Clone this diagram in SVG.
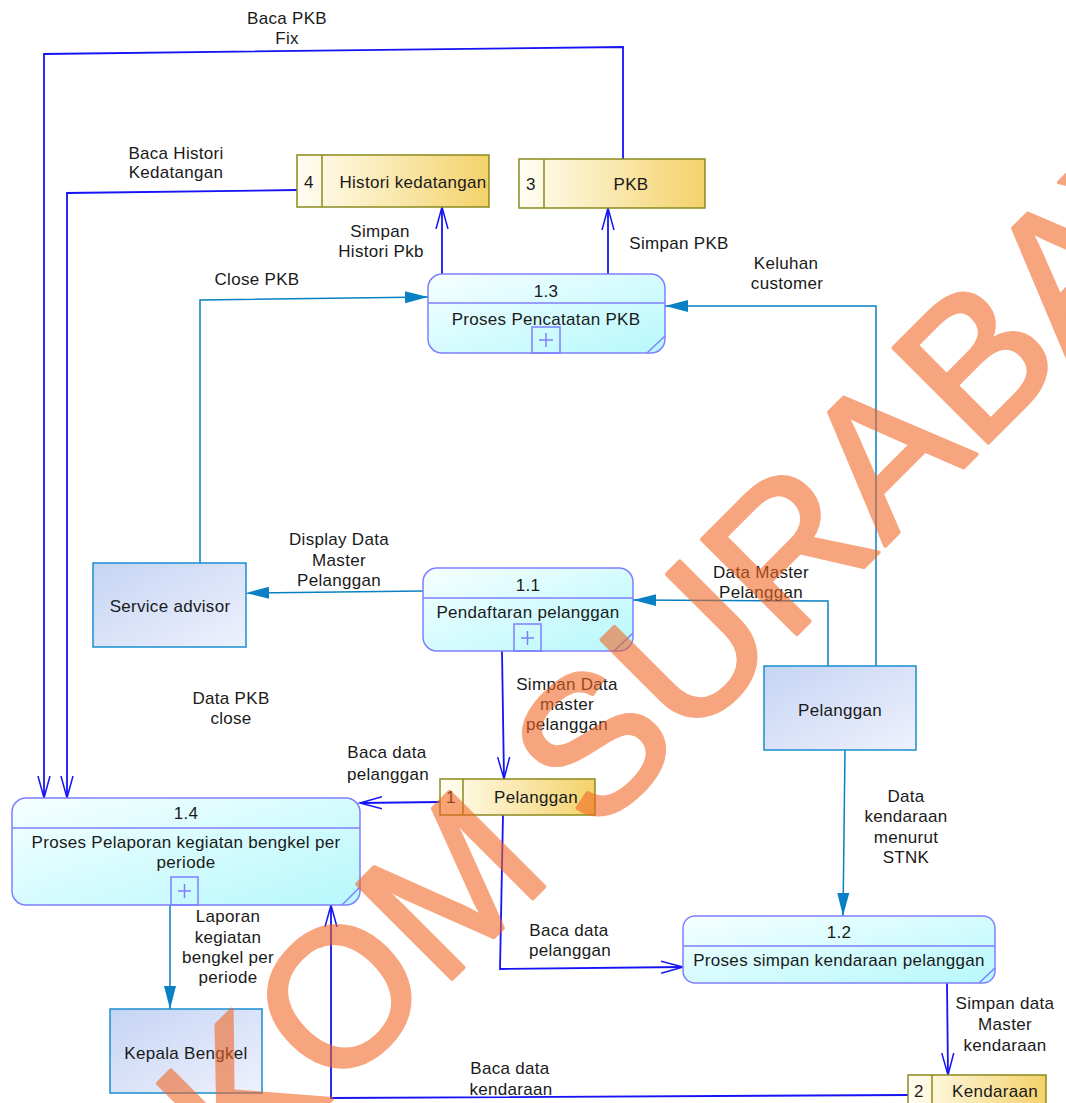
<svg xmlns="http://www.w3.org/2000/svg" width="1066" height="1103" viewBox="0 0 1066 1103">
<defs>
<linearGradient id="gProc" x1="0" y1="0" x2="1" y2="1"><stop offset="0" stop-color="#F6FFFF"/><stop offset="1" stop-color="#B6F8FC"/></linearGradient>
<linearGradient id="gEnt" x1="0" y1="0" x2="1" y2="1"><stop offset="0" stop-color="#C5D4F4"/><stop offset="1" stop-color="#EFF1FD"/></linearGradient>
<linearGradient id="gStore" x1="0" y1="0" x2="1" y2="0"><stop offset="0" stop-color="#FFFEF4"/><stop offset="1" stop-color="#F4D26A"/></linearGradient>
<marker id="open" markerWidth="24" markerHeight="16" refX="22" refY="7" orient="auto" markerUnits="userSpaceOnUse"><path d="M0,1 L22,7 L0,13" fill="none" stroke="#1414F5" stroke-width="1.5"/></marker>
<marker id="fill" markerWidth="24" markerHeight="16" refX="23" refY="7" orient="auto" markerUnits="userSpaceOnUse"><path d="M0,1 L23,7 L0,13 Z" fill="#0A80C4"/></marker>
</defs>
<style>
text{font-family:"Liberation Sans",Arial,sans-serif;font-size:17px;fill:#1a1a1a;text-anchor:middle;letter-spacing:0.3px}
.proc{fill:url(#gProc);stroke:#7F7FFF;stroke-width:1.5}
.pl{stroke:#7F7FFF;stroke-width:1.5;fill:none}
.ent{fill:url(#gEnt);stroke:#1A8FD0;stroke-width:1.5}
.st{fill:url(#gStore);stroke:#8A8A1E;stroke-width:1.5}
.sl{stroke:#8A8A1E;stroke-width:1.5}
.fb{fill:none;stroke:#1414F5;stroke-width:1.8;marker-end:url(#open)}
.ft{fill:none;stroke:#0A80C4;stroke-width:1.5;marker-end:url(#fill)}
.wm{font-size:195px;fill:#F26522;stroke:#F26522;stroke-width:4;stroke-linejoin:round;opacity:0.58;text-anchor:start;letter-spacing:0}
</style>
<rect width="1066" height="1103" fill="#ffffff"/>

<g id="connectors">
<polyline class="fb" points="623,159 623,47 44,54 44,798"/>
<polyline class="fb" points="297,190 67,193 67,798"/>
<line class="fb" x1="442" y1="274" x2="442" y2="207"/>
<line class="fb" x1="608" y1="274" x2="608" y2="208"/>
<polyline class="ft" points="200,563 200,300 428,297"/>
<polyline class="ft" points="876,666 876,306 665,306"/>
<polyline class="ft" points="828,666 828,601 633,600"/>
<line class="ft" x1="423" y1="591" x2="246" y2="593"/>
<line class="ft" x1="845" y1="750" x2="843" y2="916"/>
<line class="fb" x1="502" y1="651" x2="504" y2="779"/>
<line class="fb" x1="440" y1="802" x2="360" y2="803"/>
<polyline class="fb" points="503,815 500,969 683,967"/>
<line class="ft" x1="170" y1="905" x2="170" y2="1009"/>
<line class="fb" x1="947" y1="983" x2="948" y2="1075"/>
<polyline class="fb" points="908,1095 331,1098 331,905"/>
</g>

<g id="labels">
<text x="287" y="24">Baca PKB</text><text x="287" y="44">Fix</text>
<text x="176" y="159">Baca Histori</text><text x="176" y="178">Kedatangan</text>
<text x="380" y="237">Simpan</text><text x="381" y="257">Histori Pkb</text>
<text x="679" y="249">Simpan PKB</text>
<text x="786" y="269">Keluhan</text><text x="787" y="289">customer</text>
<text x="257" y="285">Close PKB</text>
<text x="339" y="545">Display Data</text><text x="339" y="566">Master</text><text x="339" y="586">Pelanggan</text>
<text x="761" y="578">Data Master</text><text x="761" y="598">Pelanggan</text>
<text x="231" y="704">Data PKB</text><text x="231" y="724">close</text>
<text x="567" y="690">Simpan Data</text><text x="567" y="710">master</text><text x="567" y="730">pelanggan</text>
<text x="387" y="758">Baca data</text><text x="388" y="780">pelanggan</text>
<text x="906" y="802">Data</text><text x="906" y="822">kendaraan</text><text x="906" y="843">menurut</text><text x="906" y="863">STNK</text>
<text x="228" y="922">Laporan</text><text x="228" y="943">kegiatan</text><text x="228" y="963">bengkel per</text><text x="228" y="983">periode</text>
<text x="569" y="936">Baca data</text><text x="570" y="956">pelanggan</text>
<text x="1005" y="1009">Simpan data</text><text x="1005" y="1030">Master</text><text x="1005" y="1051">kendaraan</text>
<text x="510" y="1074">Baca data</text><text x="511" y="1095">kendaraan</text>
</g>

<g id="store4">
<rect class="st" x="297" y="155" width="192" height="52"/>
<line class="sl" x1="322" y1="155" x2="322" y2="207"/>
<text x="309" y="188">4</text><text x="413" y="188">Histori kedatangan</text>
</g>
<g id="store3">
<rect class="st" x="519" y="159" width="186" height="49"/>
<line class="sl" x1="544" y1="159" x2="544" y2="208"/>
<text x="531" y="190">3</text><text x="631" y="190">PKB</text>
</g>
<g id="store1">
<rect class="st" x="440" y="779" width="155" height="36"/>
<line class="sl" x1="463" y1="779" x2="463" y2="815"/>
<text x="451" y="803">1</text><text x="536" y="803">Pelanggan</text>
</g>
<g id="store2">
<rect class="st" x="908" y="1075" width="138" height="36"/>
<line class="sl" x1="932" y1="1075" x2="932" y2="1111"/>
<text x="919" y="1097">2</text><text x="995" y="1097">Kendaraan</text>
</g>

<g id="p13">
<rect class="proc" x="428" y="274" width="237" height="79" rx="14"/>
<line class="pl" x1="428" y1="303" x2="665" y2="303"/>
<line class="pl" x1="647" y1="353" x2="665" y2="336"/>
<rect class="pl" x="532" y="327" width="28" height="26"/>
<path class="pl" d="M539,340 H553 M546,333 V347"/>
<text x="546" y="297">1.3</text><text x="546" y="325">Proses Pencatatan PKB</text>
</g>
<g id="p11">
<rect class="proc" x="423" y="568" width="210" height="83" rx="14"/>
<line class="pl" x1="423" y1="598" x2="633" y2="598"/>
<line class="pl" x1="614" y1="651" x2="633" y2="633"/>
<rect class="pl" x="514" y="624" width="27" height="27"/>
<path class="pl" d="M521,638 H534 M527.5,631 V645"/>
<text x="528" y="591">1.1</text><text x="528" y="618">Pendaftaran pelanggan</text>
</g>
<g id="p14">
<rect class="proc" x="12" y="798" width="348" height="107" rx="14"/>
<line class="pl" x1="12" y1="828" x2="360" y2="828"/>
<line class="pl" x1="342" y1="905" x2="360" y2="887"/>
<rect class="pl" x="171" y="877" width="27" height="28"/>
<path class="pl" d="M178,891 H191 M184.5,884 V898"/>
<text x="186" y="819">1.4</text><text x="186" y="848">Proses Pelaporan kegiatan bengkel per</text><text x="186" y="868">periode</text>
</g>
<g id="p12">
<rect class="proc" x="683" y="916" width="312" height="67" rx="12"/>
<line class="pl" x1="683" y1="946" x2="995" y2="946"/>
<line class="pl" x1="979" y1="983" x2="995" y2="968"/>
<text x="839" y="938">1.2</text><text x="839" y="966">Proses simpan kendaraan pelanggan</text>
</g>

<g id="serviceAdvisor">
<rect class="ent" x="93" y="563" width="153" height="84"/>
<text x="170" y="612">Service advisor</text>
</g>
<g id="pelanggan">
<rect class="ent" x="764" y="666" width="152" height="84"/>
<text x="840" y="716">Pelanggan</text>
</g>
<g id="kepalaBengkel">
<rect class="ent" x="110" y="1009" width="152" height="84"/>
<text x="186" y="1059">Kepala Bengkel</text>
</g>

<text class="wm" x="27" y="1404" transform="rotate(-45 27 1404)">STIKOM SURABAYA</text>
</svg>
